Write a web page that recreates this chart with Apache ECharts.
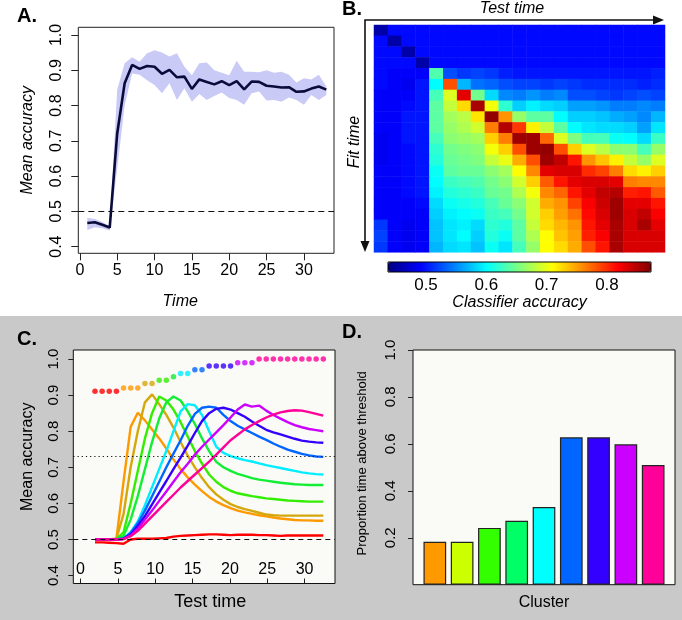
<!DOCTYPE html>
<html><head><meta charset="utf-8">
<script src="https://cdn.jsdelivr.net/npm/echarts@6/dist/echarts.min.js"></script>
<style>html,body{margin:0;padding:0;background:#fff}#c{width:682px;height:620px}</style>
</head><body><div id="c"></div>
<script>
// ---------- Panel A ----------
const timeA = [1,2,3,4,5,6,7,8,9,10,11,12,13,14,15,16,17,18,19,20,21,22,23,24,25,26,27,28,29,30,31,32,33];
const meanA = [0.467,0.469,0.462,0.454,0.72,0.863,0.915,0.904,0.912,0.91,0.89,0.901,0.88,0.882,0.847,0.874,0.867,0.86,0.869,0.858,0.869,0.846,0.868,0.867,0.856,0.854,0.851,0.852,0.839,0.84,0.848,0.854,0.845];
const upperA = [0.482,0.478,0.47,0.458,0.845,0.92,0.937,0.924,0.948,0.957,0.95,0.939,0.948,0.91,0.886,0.92,0.922,0.9,0.893,0.886,0.927,0.896,0.896,0.894,0.9,0.893,0.896,0.887,0.865,0.877,0.874,0.887,0.854];
const lowerA = [0.447,0.455,0.452,0.446,0.62,0.80,0.891,0.887,0.872,0.858,0.835,0.863,0.816,0.849,0.811,0.833,0.816,0.827,0.837,0.821,0.816,0.802,0.835,0.84,0.814,0.816,0.811,0.823,0.816,0.802,0.83,0.816,0.83];
const ticksTime = [0,5,10,15,20,25,30];
const ticksAccA = [0.4,0.5,0.6,0.7,0.8,0.9,1.0];

// ---------- Panel B (rows = fit time, cols = test time) ----------
const heatRows = [
[0.455,0.495,0.495,0.495,0.495,0.495,0.495,0.495,0.495,0.495,0.495,0.495,0.495,0.495,0.495,0.495,0.495,0.495,0.495,0.495,0.495],
[0.495,0.455,0.495,0.495,0.495,0.495,0.495,0.495,0.495,0.495,0.495,0.495,0.495,0.495,0.495,0.495,0.495,0.495,0.495,0.495,0.495],
[0.495,0.495,0.455,0.495,0.495,0.495,0.495,0.495,0.495,0.495,0.495,0.495,0.495,0.495,0.495,0.495,0.495,0.495,0.495,0.495,0.495],
[0.495,0.495,0.495,0.455,0.495,0.495,0.495,0.495,0.495,0.495,0.495,0.495,0.495,0.495,0.495,0.495,0.495,0.495,0.495,0.495,0.495],
[0.495,0.49,0.49,0.49,0.635,0.525,0.515,0.52,0.515,0.505,0.5,0.5,0.5,0.5,0.5,0.5,0.5,0.5,0.5,0.5,0.505],
[0.495,0.49,0.485,0.5,0.60,0.785,0.57,0.54,0.535,0.525,0.52,0.52,0.515,0.52,0.515,0.51,0.51,0.51,0.51,0.505,0.51],
[0.49,0.49,0.49,0.5,0.63,0.695,0.83,0.65,0.585,0.55,0.545,0.555,0.545,0.55,0.525,0.525,0.52,0.515,0.52,0.525,0.52],
[0.49,0.49,0.495,0.5,0.64,0.685,0.725,0.855,0.705,0.62,0.58,0.595,0.585,0.58,0.56,0.56,0.555,0.545,0.545,0.55,0.545],
[0.49,0.49,0.5,0.5,0.64,0.67,0.68,0.72,0.865,0.755,0.665,0.64,0.64,0.60,0.58,0.58,0.575,0.565,0.56,0.55,0.57],
[0.49,0.49,0.5,0.5,0.64,0.665,0.675,0.69,0.765,0.85,0.795,0.715,0.685,0.64,0.6,0.59,0.585,0.585,0.58,0.56,0.59],
[0.485,0.49,0.5,0.5,0.63,0.66,0.665,0.67,0.73,0.765,0.86,0.86,0.775,0.695,0.655,0.63,0.63,0.605,0.6,0.585,0.625],
[0.485,0.49,0.495,0.5,0.62,0.65,0.655,0.66,0.705,0.73,0.785,0.86,0.865,0.785,0.73,0.695,0.68,0.66,0.66,0.63,0.665],
[0.485,0.49,0.495,0.5,0.615,0.645,0.65,0.655,0.685,0.7,0.745,0.785,0.86,0.845,0.81,0.755,0.735,0.715,0.685,0.665,0.695],
[0.49,0.49,0.495,0.5,0.605,0.64,0.645,0.645,0.66,0.67,0.71,0.76,0.83,0.835,0.835,0.8,0.79,0.765,0.725,0.715,0.73],
[0.49,0.49,0.495,0.5,0.6,0.625,0.63,0.635,0.65,0.66,0.69,0.73,0.78,0.81,0.83,0.835,0.835,0.83,0.765,0.76,0.76],
[0.49,0.49,0.495,0.5,0.595,0.615,0.62,0.625,0.645,0.65,0.675,0.705,0.76,0.775,0.81,0.83,0.845,0.85,0.805,0.81,0.78],
[0.49,0.49,0.49,0.495,0.585,0.605,0.61,0.615,0.63,0.645,0.66,0.69,0.745,0.755,0.79,0.82,0.84,0.86,0.83,0.83,0.81],
[0.49,0.49,0.49,0.49,0.58,0.595,0.6,0.605,0.625,0.63,0.65,0.69,0.73,0.75,0.77,0.815,0.835,0.86,0.835,0.845,0.82],
[0.515,0.49,0.485,0.49,0.575,0.59,0.595,0.585,0.62,0.615,0.64,0.685,0.725,0.74,0.755,0.81,0.83,0.855,0.835,0.855,0.83],
[0.52,0.49,0.485,0.49,0.575,0.59,0.6,0.58,0.615,0.605,0.64,0.675,0.71,0.735,0.75,0.805,0.82,0.855,0.835,0.835,0.835],
[0.515,0.49,0.485,0.49,0.57,0.585,0.59,0.575,0.605,0.59,0.63,0.665,0.71,0.725,0.745,0.785,0.81,0.855,0.835,0.835,0.835]
];
const colorbarTicks = [0.5,0.6,0.7,0.8];
const jet = ['#00007F','#0000FF','#007FFF','#00FFFF','#7FFF7F','#FFFF00','#FF7F00','#FF0000','#7F0000'];

// ---------- Panel C (index of time sample 1..33) ----------
const timeIdx = [1,2,3,4,5,6,7,8,9,10,11,12,13,14,15,16,17,18,19,20,21,22,23,24,25,26,27,28,29,30,31,32,33];
const curveRed    = [0.492,0.492,0.491,0.490,0.488,0.500,0.502,0.502,0.502,0.503,0.504,0.508,0.510,0.511,0.512,0.513,0.514,0.514,0.513,0.512,0.513,0.513,0.513,0.512,0.512,0.511,0.510,0.511,0.511,0.511,0.511,0.511,0.511];
const curveOrange = [0.500,0.500,0.500,0.502,0.660,0.812,0.851,0.830,0.805,0.780,0.752,0.722,0.695,0.672,0.652,0.634,0.618,0.605,0.595,0.587,0.580,0.575,0.571,0.567,0.564,0.561,0.558,0.556,0.554,0.553,0.553,0.552,0.552];
const curveGold   = [0.500,0.500,0.500,0.502,0.570,0.700,0.800,0.880,0.902,0.875,0.845,0.810,0.770,0.732,0.700,0.670,0.645,0.625,0.610,0.598,0.590,0.584,0.579,0.574,0.569,0.567,0.566,0.566,0.566,0.566,0.566,0.566,0.566];
const curveGreen1 = [0.500,0.500,0.500,0.501,0.520,0.600,0.690,0.780,0.850,0.896,0.885,0.860,0.825,0.785,0.745,0.710,0.680,0.660,0.645,0.635,0.628,0.624,0.620,0.617,0.614,0.612,0.610,0.608,0.607,0.606,0.605,0.605,0.605];
const curveGreen2 = [0.500,0.500,0.500,0.500,0.510,0.555,0.620,0.695,0.770,0.835,0.880,0.896,0.885,0.855,0.820,0.780,0.745,0.715,0.700,0.690,0.682,0.676,0.670,0.666,0.663,0.660,0.657,0.655,0.653,0.652,0.651,0.651,0.651];
const curveCyan   = [0.500,0.500,0.500,0.500,0.503,0.520,0.550,0.595,0.645,0.695,0.745,0.800,0.855,0.875,0.872,0.845,0.800,0.757,0.740,0.731,0.725,0.720,0.716,0.711,0.706,0.702,0.698,0.694,0.690,0.686,0.683,0.681,0.680];
const curveBlue   = [0.500,0.500,0.500,0.500,0.503,0.518,0.545,0.580,0.620,0.660,0.700,0.738,0.775,0.815,0.848,0.865,0.868,0.865,0.845,0.828,0.815,0.805,0.795,0.785,0.776,0.766,0.757,0.749,0.743,0.737,0.733,0.730,0.729];
const curveIndigo = [0.500,0.500,0.500,0.500,0.502,0.514,0.537,0.565,0.597,0.630,0.662,0.695,0.727,0.760,0.795,0.828,0.850,0.862,0.865,0.860,0.850,0.840,0.827,0.815,0.804,0.797,0.791,0.785,0.779,0.774,0.771,0.769,0.768];
const curvePurple = [0.500,0.500,0.500,0.500,0.501,0.511,0.530,0.555,0.580,0.607,0.633,0.660,0.686,0.710,0.735,0.757,0.777,0.797,0.817,0.838,0.860,0.874,0.868,0.871,0.857,0.845,0.835,0.825,0.817,0.811,0.806,0.803,0.800];
const curvePink   = [0.500,0.500,0.500,0.500,0.501,0.509,0.524,0.544,0.564,0.584,0.604,0.624,0.644,0.662,0.680,0.698,0.716,0.735,0.755,0.775,0.790,0.805,0.817,0.828,0.838,0.846,0.852,0.856,0.858,0.857,0.853,0.848,0.843];
const curveColorsC = ['#FF0000','#FF9900','#D4A80C','#33EE00','#11EE33','#00EEFF','#0066FF','#3300FF','#CC00FF','#FF0099'];
const bestCluster = [1,1,1,1,2,2,2,3,3,4,4,5,6,6,7,7,8,8,8,8,9,9,9,10,10,10,10,10,10,10,10,10,10];
const bestDotY = [0.911,0.911,0.911,0.911,0.92,0.92,0.92,0.932,0.932,0.941,0.941,0.951,0.96,0.96,0.97,0.97,0.981,0.981,0.981,0.981,0.99,0.99,0.99,1.0,1.0,1.0,1.0,1.0,1.0,1.0,1.0,1.0,1.0];
const thresholdC = 0.732;
const chanceLevel = 0.5;
const ticksAccC = [0.4,0.5,0.6,0.7,0.8,0.9,1.0];

// ---------- Panel D ----------
const clusterIds = [1,2,3,4,5,6,7,8,9];
const propAbove = [0.183,0.183,0.242,0.272,0.331,0.628,0.628,0.598,0.51];
const barColorsD = ['#FF9900','#CCFF00','#33FF00','#00FF66','#00FFFF','#0066FF','#3300FF','#CC00FF','#FF0099'];
const ticksPropD = [0.2,0.4,0.6,0.8,1.0];

const FONT = "'Liberation Sans', Arial, Helvetica, sans-serif";
const fmt1 = v => Number(v).toFixed(1);

const heatData = [];
heatRows.forEach((row, r) => row.forEach((v, c) => heatData.push([c, r, v])));
const idx21 = heatRows[0].map((_, i) => String(i));

const curvesC = [curveRed,curveOrange,curveGold,curveGreen1,curveGreen2,curveCyan,curveBlue,curveIndigo,curvePurple,curvePink];

const series = [];
series.push({
  type: 'custom', xAxisIndex: 0, yAxisIndex: 0, silent: true, z: 1,
  data: timeA.map((t, i) => [t, lowerA[i], upperA[i]]),
  encode: {x: 0, y: [1, 2]},
  renderItem: function (params, api) {
    if (params.dataIndex !== 0) return null;
    const pts = [];
    for (let i = 0; i < timeA.length; i++) pts.push(api.coord([timeA[i], upperA[i]]));
    for (let i = timeA.length - 1; i >= 0; i--) pts.push(api.coord([timeA[i], lowerA[i]]));
    return {type: 'polygon', shape: {points: pts}, style: {fill: '#CACAF7', stroke: null}};
  }
});
series.push({
  type: 'line', xAxisIndex: 0, yAxisIndex: 0, symbol: 'none', z: 3,
  data: timeA.map((t, i) => [t, meanA[i]]),
  lineStyle: {color: '#0B0B3B', width: 2.6},
  markLine: {silent: true, symbol: 'none', label: {show: false},
    lineStyle: {color: '#111', type: [6, 4], width: 1.2},
    data: [{yAxis: chanceLevel}]}
});
series.push({
  type: 'heatmap', xAxisIndex: 1, yAxisIndex: 1, data: heatData, silent: true,
  progressive: 0, emphasis: {disabled: true}
});
const heatIndex = series.length - 1;
curvesC.forEach((arr, ci) => {
  const s = {
    type: 'line', xAxisIndex: 3, yAxisIndex: 3, symbol: 'none', silent: true,
    data: timeIdx.map((k, i) => [k, arr[i]]),
    lineStyle: {color: curveColorsC[ci], width: 2.4}, z: 3 + ci * 0.01
  };
  if (ci === 0) {
    s.markLine = {silent: true, symbol: 'none', label: {show: false},
      data: [
        {yAxis: chanceLevel, lineStyle: {color: '#111', type: [5, 4], width: 1.1}},
        {yAxis: thresholdC, lineStyle: {color: '#111', type: [1.2, 3], width: 1.1}}
      ]};
  }
  series.push(s);
});
series.push({
  type: 'scatter', xAxisIndex: 3, yAxisIndex: 3, symbolSize: 5.5, silent: true, z: 4,
  data: timeIdx.map((k, i) => ({value: [k, bestDotY[i]], itemStyle: {color: curveColorsC[bestCluster[i] - 1]}}))
});
series.push({
  type: 'bar', xAxisIndex: 5, yAxisIndex: 4, barWidth: 22.7, silent: true,
  data: clusterIds.map((c, i) => ({value: [c, propAbove[i]], itemStyle: {color: barColorsD[i]}})),
  itemStyle: {borderColor: '#222', borderWidth: 1.2}
});

const lab = (size) => ({color: '#000', fontFamily: FONT, fontSize: size});
const noLine = {show: false, onZero: false};

const option = {
  animation: false,
  textStyle: {fontFamily: FONT},
  grid: [
    {left: 78.3, top: 27.3, width: 255.7, height: 226, show: true, backgroundColor: '#fff', borderColor: '#222', borderWidth: 1},
    {left: 374, top: 25, width: 291, height: 227.3},
    {left: 388, top: 262, width: 263, height: 10, show: true, borderColor: '#000', borderWidth: 1, backgroundColor: 'transparent', z: 10},
    {left: 73.3, top: 350, width: 261.7, height: 233.5, show: true, backgroundColor: '#FAFAF7', borderColor: '#111', borderWidth: 1},
    {left: 413, top: 350, width: 262, height: 234.7, show: true, backgroundColor: '#FAFAF7', borderColor: '#111', borderWidth: 1}
  ],
  xAxis: [
    {type: 'value', gridIndex: 0, position: 'bottom', min: -0.205, max: 34.03, splitLine: {show: false}, axisLine: noLine,
     axisTick: {show: true, length: 7, customValues: ticksTime, lineStyle: {color: '#222'}},
     axisLabel: {customValues: ticksTime, margin: 9, ...lab(16)},
     name: 'Time', nameLocation: 'middle', nameGap: 40,
     nameTextStyle: {...lab(16), fontStyle: 'italic', padding: [0, 52, 0, 0]}},
    {type: 'category', gridIndex: 1, data: idx21, show: false},
    {type: 'value', gridIndex: 2, position: 'bottom', min: 0.437, max: 0.873, splitLine: {show: false}, axisLine: noLine, axisTick: {show: false},
     axisLabel: {customValues: colorbarTicks, margin: 5, formatter: fmt1, ...lab(17)},
     name: 'Classifier accuracy', nameLocation: 'middle', nameGap: 22,
     nameTextStyle: {...lab(16), fontStyle: 'italic'}},
    {type: 'value', gridIndex: 3, position: 'bottom', min: -2.04, max: 34.64, show: false, axisLine: noLine},
    {type: 'value', gridIndex: 3, position: 'bottom', offset: 0, min: -0.96, max: 34.07, splitLine: {show: false}, axisLine: noLine,
     axisTick: {show: true, inside: true, length: 5, customValues: ticksTime, lineStyle: {color: '#222'}},
     axisLabel: {inside: true, customValues: ticksTime, margin: 6, ...lab(16)},
     name: 'Test time', nameLocation: 'middle', nameGap: 10,
     nameTextStyle: {...lab(18), padding: [0, 0, 0, 12]}},
    {type: 'value', gridIndex: 4, position: 'bottom', min: 0.2, max: 9.8, splitLine: {show: false}, axisLine: noLine, axisTick: {show: false}, axisLabel: {show: false},
     name: 'Cluster', nameLocation: 'middle', nameGap: 10, nameTextStyle: {...lab(16)}}
  ],
  yAxis: [
    {type: 'value', gridIndex: 0, position: 'left', min: 0.381, max: 1.0218, splitLine: {show: false}, axisLine: noLine,
     axisTick: {show: true, length: 7, customValues: ticksAccA, lineStyle: {color: '#222'}},
     axisLabel: {customValues: ticksAccA, rotate: 90, margin: 14, formatter: fmt1, ...lab(16)},
     name: 'Mean accuracy', nameLocation: 'middle', nameGap: 43,
     nameTextStyle: {...lab(16), fontStyle: 'italic'}},
    {type: 'category', gridIndex: 1, data: idx21, inverse: true, show: false},
    {type: 'value', gridIndex: 2, show: false, axisLine: noLine},
    {type: 'value', gridIndex: 3, position: 'left', min: 0.378, max: 1.025, splitLine: {show: false}, axisLine: noLine,
     axisTick: {show: true, length: 5, customValues: ticksAccC, lineStyle: {color: '#222'}},
     axisLabel: {customValues: ticksAccC, rotate: 90, margin: 12, formatter: fmt1, ...lab(15)},
     name: 'Mean accuracy', nameLocation: 'middle', nameGap: 38,
     nameTextStyle: {...lab(16), padding: [0, 0, 0, 20]}},
    {type: 'value', gridIndex: 4, position: 'left', min: 0, max: 1, splitLine: {show: false}, axisLine: noLine,
     axisTick: {show: true, length: 5, customValues: ticksPropD, lineStyle: {color: '#222'}},
     axisLabel: {customValues: ticksPropD, rotate: 90, margin: 15, formatter: fmt1, ...lab(15)},
     name: 'Proportion time above threshold', nameLocation: 'middle', nameGap: 44,
     nameTextStyle: {...lab(13), padding: [0, 0, 0, 8]}}
  ],
  visualMap: {
    type: 'continuous', min: 0.437, max: 0.873, seriesIndex: heatIndex, orient: 'horizontal',
    left: 388, top: 262, itemWidth: 10, itemHeight: 263, calculable: false, showLabel: false,
    text: null, padding: 0, hoverLink: false, inRange: {color: jet}
  },
  graphic: [
    {type: 'rect', z: -10, silent: true, shape: {x: 0, y: 316, width: 682, height: 304}, style: {fill: '#C9C9C9'}},
    {type: 'text', x: 17, y: 16, silent: true, style: {text: 'A.', fontFamily: FONT, fontWeight: 'bold', fontSize: 20, fill: '#000', align: 'left', verticalAlign: 'middle', textAlign: 'left', textVerticalAlign: 'middle'}},
    {type: 'text', x: 342, y: 9, silent: true, style: {text: 'B.', fontFamily: FONT, fontWeight: 'bold', fontSize: 20, fill: '#000', align: 'left', verticalAlign: 'middle', textAlign: 'left', textVerticalAlign: 'middle'}},
    {type: 'text', x: 17, y: 339, silent: true, style: {text: 'C.', fontFamily: FONT, fontWeight: 'bold', fontSize: 20, fill: '#000', align: 'left', verticalAlign: 'middle', textAlign: 'left', textVerticalAlign: 'middle'}},
    {type: 'text', x: 342, y: 332, silent: true, style: {text: 'D.', fontFamily: FONT, fontWeight: 'bold', fontSize: 20, fill: '#000', align: 'left', verticalAlign: 'middle', textAlign: 'left', textVerticalAlign: 'middle'}},
    {type: 'text', x: 512, y: 9, silent: true, style: {text: 'Test time', fontFamily: FONT, fontStyle: 'italic', fontSize: 16, fill: '#000', align: 'center', verticalAlign: 'middle', textAlign: 'center', textVerticalAlign: 'middle'}},
    {type: 'text', x: 355, y: 142, rotation: Math.PI / 2, silent: true, style: {text: 'Fit time', fontFamily: FONT, fontStyle: 'italic', fontSize: 16, fill: '#000', align: 'center', verticalAlign: 'middle', textAlign: 'center', textVerticalAlign: 'middle'}},
    {type: 'polyline', silent: true, shape: {points: [[365, 243], [365, 20], [655, 20]]}, style: {stroke: '#111', lineWidth: 1.6, fill: null}},
    {type: 'polygon', silent: true, shape: {points: [[664, 20], [653, 15.5], [653, 24.5]]}, style: {fill: '#111'}},
    {type: 'polygon', silent: true, shape: {points: [[365, 252], [360.5, 241], [369.5, 241]]}, style: {fill: '#111'}}
  ],
  series: series
};

const chart = echarts.init(document.getElementById('c'), null, {renderer: 'canvas'});
chart.setOption(option);
</script>
</body></html>
